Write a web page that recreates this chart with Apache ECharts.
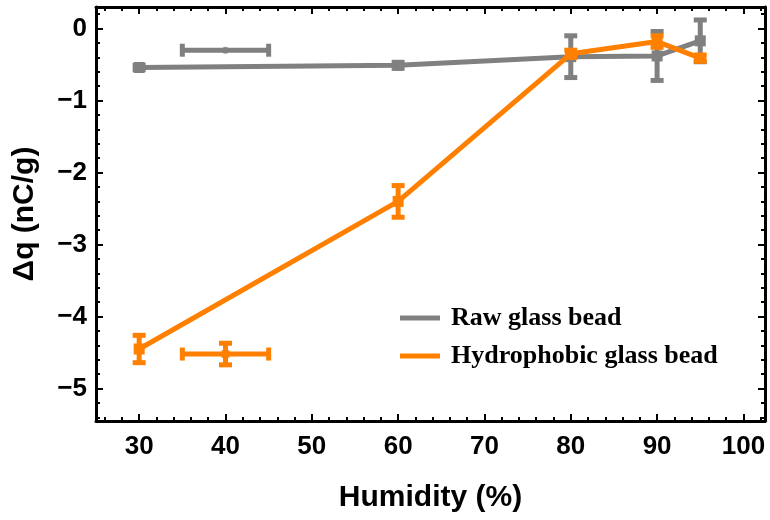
<!DOCTYPE html>
<html>
<head>
<meta charset="utf-8">
<script src="https://cdn.jsdelivr.net/npm/echarts@6/dist/echarts.min.js"></script>
<style>
html,body{margin:0;padding:0;background:#fff;}
#chart{width:770px;height:520px;}
</style>
</head>
<body>
<div id="chart"></div>
<script>
// ---- data ----
const humidity = [30, 60, 80, 90, 95];
const rawValues = [-0.54, -0.51, -0.39, -0.38, -0.17];
const rawErrors = [0.03, 0.04, 0.29, 0.34, 0.29];
const hydroValues = [-4.45, -2.40, -0.35, -0.18, -0.41];
const hydroErrors = [0.19, 0.22, 0.05, 0.08, 0.04];
// separate points with horizontal error bars
const rawExtra = [40, -0.30];
const rawExtraXErr = [5];
const rawExtraYErr = [0];
const hydroExtra = [40, -4.52];
const hydroExtraXErr = [5];
const hydroExtraYErr = [0.15];
// ticks
const xMajor = [30, 40, 50, 60, 70, 80, 90, 100];
const xMinor = [26, 28, 32, 34, 36, 38, 42, 44, 46, 48, 52, 54, 56, 58, 62, 64, 66, 68, 72, 74, 76, 78, 82, 84, 86, 88, 92, 94, 96, 98, 102];
const yMajor = [-5, -4, -3, -2, -1, 0];
const yMinor = [-5.4, -5.2, -4.8, -4.6, -4.4, -4.2, -3.8, -3.6, -3.4, -3.2, -2.8, -2.6, -2.4, -2.2, -1.8, -1.6, -1.4, -1.2, -0.8, -0.6, -0.4, -0.2, 0.2];

const GREY = '#808080';
const ORANGE = '#FF8000';
const X_MIN = 25, X_MAX = 102.5, Y_MIN = -5.45, Y_MAX = 0.3;
const FONT = 'Liberation Sans';

const chart = echarts.init(document.getElementById('chart'), null, {renderer: 'canvas'});

function errRender(color) {
  return function (params, api) {
    const x = api.value(0), y = api.value(1), ey = api.value(2), ex = api.value(3);
    const children = [];
    const stem = 5, capW = 13, capH = 5;
    if (ey > 0) {
      const top = api.coord([x, y + ey]);
      const bot = api.coord([x, y - ey]);
      children.push({type: 'line', shape: {x1: top[0], y1: top[1], x2: bot[0], y2: bot[1]}, style: {stroke: color, lineWidth: stem}});
      children.push({type: 'rect', shape: {x: top[0] - capW / 2, y: top[1] - capH / 2, width: capW, height: capH}, style: {fill: color}});
      children.push({type: 'rect', shape: {x: bot[0] - capW / 2, y: bot[1] - capH / 2, width: capW, height: capH}, style: {fill: color}});
    }
    if (ex > 0) {
      const l = api.coord([x - ex, y]);
      const r = api.coord([x + ex, y]);
      children.push({type: 'line', shape: {x1: l[0], y1: l[1], x2: r[0], y2: r[1]}, style: {stroke: color, lineWidth: stem}});
      children.push({type: 'rect', shape: {x: l[0] - capH / 2, y: l[1] - capW / 2, width: capH, height: capW}, style: {fill: color}});
      children.push({type: 'rect', shape: {x: r[0] - capH / 2, y: r[1] - capW / 2, width: capH, height: capW}, style: {fill: color}});
    }
    return {type: 'group', children: children};
  };
}

const rawErrData = humidity.map((h, i) => [h, rawValues[i], rawErrors[i], 0]);
const hydroErrData = humidity.map((h, i) => [h, hydroValues[i], hydroErrors[i], 0]);
const rawExtraData = [[rawExtra[0], rawExtra[1], rawExtraYErr[0], rawExtraXErr[0]]];
const hydroExtraData = [[hydroExtra[0], hydroExtra[1], hydroExtraYErr[0], hydroExtraXErr[0]]];

const labelStyle = {fontFamily: FONT, fontWeight: 'bold', fontSize: 26, color: '#000'};
const lineStyleAxis = {color: '#000', width: 3};

function xAx(pos, major, showLine, showLabel) {
  return {
    type: 'value', position: pos, min: X_MIN, max: X_MAX,
    axisLine: {show: showLine, onZero: false, lineStyle: lineStyleAxis},
    axisTick: {show: true, inside: true, length: major ? 7 : 4, lineStyle: {color: '#000', width: 2}, customValues: major ? xMajor : xMinor},
    axisLabel: showLabel ? Object.assign({show: true, margin: 13, customValues: xMajor}, labelStyle) : {show: false, customValues: major ? xMajor : xMinor},
    splitLine: {show: false}
  };
}
function yAx(pos, major, showLine, showLabel) {
  return {
    type: 'value', position: pos, min: Y_MIN, max: Y_MAX,
    axisLine: {show: showLine, onZero: false, lineStyle: lineStyleAxis},
    axisTick: {show: true, inside: true, length: major ? 7 : 4, lineStyle: {color: '#000', width: 2}, customValues: major ? yMajor : yMinor},
    axisLabel: showLabel ? Object.assign({show: true, margin: 9, customValues: yMajor,
      formatter: v => v < 0 ? '\u2212' + Math.abs(v) : String(v)}, labelStyle) : {show: false, customValues: major ? yMajor : yMinor},
    splitLine: {show: false}
  };
}

const xAxes = [xAx('bottom', true, true, true), xAx('bottom', false, false, false), xAx('top', true, true, false), xAx('top', false, false, false)];
xAxes[0].name = 'Humidity (%)';
xAxes[0].nameLocation = 'middle';
xAxes[0].nameGap = 62;
xAxes[0].nameTextStyle = {fontFamily: FONT, fontWeight: 'bold', fontSize: 30, color: '#000'};
const yAxes = [yAx('left', true, true, true), yAx('left', false, false, false), yAx('right', true, true, false), yAx('right', false, false, false)];
yAxes[0].name = 'Δq (nC/g)';
yAxes[0].nameLocation = 'middle';
yAxes[0].nameGap = 56;
yAxes[0].nameTextStyle = {fontFamily: FONT, fontWeight: 'bold', fontSize: 30, color: '#000'};

const option = {
  animation: false,
  backgroundColor: '#fff',
  grid: {left: 96, right: 5, top: 7, bottom: 99, containLabel: false},
  xAxis: xAxes,
  yAxis: yAxes,
  legend: {
    data: ['Raw glass bead', 'Hydrophobic glass bead'],
    orient: 'vertical', left: 395, top: 300, itemGap: 12,
    icon: 'rect', itemWidth: 40, itemHeight: 5,
    textStyle: {fontFamily: 'Liberation Serif', fontWeight: 'bold', fontSize: 26, color: '#000', padding: [0, 0, 0, 6]}
  },
  series: [
    {name: 'Raw glass bead', type: 'line', data: humidity.map((h, i) => [h, rawValues[i]]),
      color: GREY, lineStyle: {width: 5, color: GREY}, symbol: 'rect', symbolSize: 11,
      itemStyle: {color: GREY}, z: 2},
    {type: 'custom', renderItem: errRender(GREY), data: rawErrData, z: 2},
    {type: 'custom', renderItem: errRender(GREY), data: rawExtraData, z: 2},
    {type: 'scatter', data: [rawExtra], symbol: 'circle', symbolSize: 7, itemStyle: {color: GREY}, z: 2},
    {name: 'Hydrophobic glass bead', type: 'line', data: humidity.map((h, i) => [h, hydroValues[i]]),
      color: ORANGE, lineStyle: {width: 5, color: ORANGE}, symbol: 'rect', symbolSize: 11,
      itemStyle: {color: ORANGE}, z: 4},
    {type: 'custom', renderItem: errRender(ORANGE), data: hydroErrData, z: 4},
    {type: 'custom', renderItem: errRender(ORANGE), data: hydroExtraData, z: 4},
    {type: 'scatter', data: [hydroExtra], symbol: 'rect', symbolSize: 8, itemStyle: {color: ORANGE}, z: 4}
  ]
};
chart.setOption(option);
</script>
</body>
</html>
